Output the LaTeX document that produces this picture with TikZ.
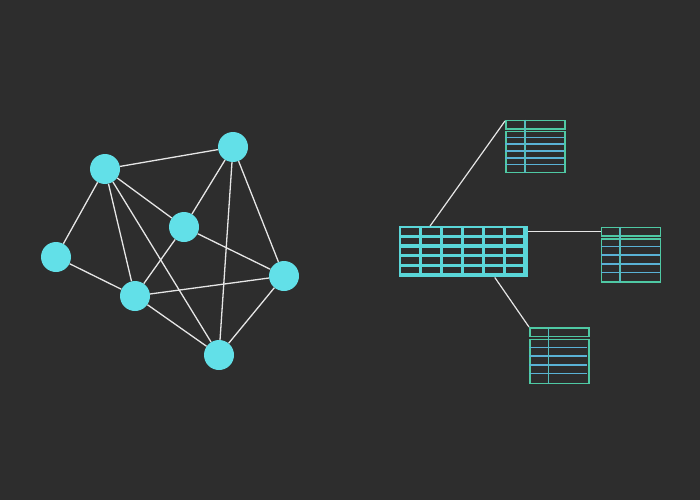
\documentclass[tikz,border=0pt]{standalone}
\usetikzlibrary{calc}
\definecolor{bg}{HTML}{2D2D2D}
\definecolor{nodecyan}{HTML}{62E0E8}
\definecolor{edgewhite}{HTML}{E6E6E6}
\definecolor{gridcyan}{HTML}{5AD6D8}
\definecolor{tgreen}{HTML}{4FC9A4}
\definecolor{tblue}{HTML}{5AB2D6}
\begin{document}
\begin{tikzpicture}[x=1pt,y=-1pt,
  vert/.style={circle,fill=nodecyan,minimum size=30pt,inner sep=0pt},
  edge/.style={draw=edgewhite,line width=1.3pt},
  link/.style={draw=edgewhite,line width=1.2pt},
  bigtab/.style={rectangle,fill=gridcyan,minimum width=129pt,minimum height=51pt,inner sep=0pt,anchor=north west},
  thead/.style={rectangle,draw=tgreen,line width=1.6pt,minimum width=59pt,minimum height=8.5pt,inner sep=0pt,anchor=north west},
  tbody/.style={rectangle,draw=tgreen,line width=1.6pt,minimum width=59pt,inner sep=0pt,anchor=north west},
  cellrule/.style={draw=tblue,line width=1.5pt},
  colrule/.style={draw=tgreen!50!tblue,line width=1.5pt}]
\fill[bg] (0,0) rectangle (700,500);
\useasboundingbox (0,0) rectangle (700,500);

% graph vertices
\node[vert] (a) at (105,169) {};
\node[vert] (b) at (233,147) {};
\node[vert] (c) at (184,227) {};
\node[vert] (d) at (56,257) {};
\node[vert] (e) at (135,296) {};
\node[vert] (f) at (284,276) {};
\node[vert] (g) at (219,355) {};

% edges (drawn between node borders)
\foreach \u/\v in {a/b,a/d,a/c,a/e,a/g,b/c,b/g,b/f,c/e,c/f,d/e,e/f,e/g,g/f}{
  \path[edge] (\u) -- (\v);
}

% main table
\node[bigtab] (main) at (399,226) {};
\foreach \i in {0,...,5}{
  \foreach \j in {0,...,4}{
    \fill[bg] ($(main.north west)+(2.4+\i*20.9,2.4+\j*9.6)$) rectangle ++(17.5,6.3);
  }
}

% top table
\node[thead] (top) at (505,119.5) {};
\node[tbody,minimum height=41pt] (topb) at (505,130.5) {};
\foreach \k in {1,...,5}{
  \path[cellrule] ($(topb.north west)+(0,\k*6.83)$) -- ++(59,0);
}
\path[colrule] ($(top.north west)+(20,0)$) -- ($(topb.south west)+(20,0)$);

% right table
\node[thead] (rt) at (600.5,226.5) {};
\node[tbody,minimum height=43pt] (rtb) at (600.5,238) {};
\foreach \k in {1,...,4}{
  \path[cellrule] ($(rtb.north west)+(0,\k*8.6)$) -- ++(59,0);
}
\path[colrule] ($(rt.north west)+(19.5,0)$) -- ($(rtb.south west)+(19.5,0)$);

% bottom table
\node[thead] (bt) at (529,327) {};
\node[tbody,minimum height=44pt] (btb) at (529,338.5) {};
\foreach \k in {1,...,4}{
  \path[cellrule] ($(btb.north west)+(0,\k*8.8)$) -- ++(58,0);
}
\path[colrule] ($(bt.north west)+(19.5,0)$) -- ($(btb.south west)+(19.5,0)$);

% connectors
\path[link] ($(main.north west)!0.24!(main.north east)$) -- ($(top.north west)+(0,1.5)$);
\path[link] (rt.west) -- (rt.west -| main.east);
\path[link] ($(main.south west)!0.74!(main.south east)$) -- (bt.north west);
\end{tikzpicture}
\end{document}
